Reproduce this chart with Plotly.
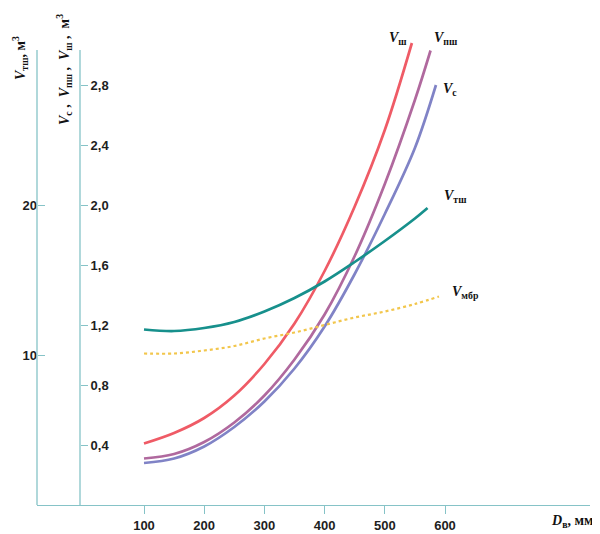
import plotly.graph_objects as go

# ---- data (x in mm, y in m^3; V_tsh and V_mbr on the outer axis scale) ----
x_sh = [100, 150, 200, 250, 300, 350, 400, 450, 500, 545]
v_sh = [0.41, 0.48, 0.58, 0.73, 0.94, 1.21, 1.56, 1.99, 2.50, 3.08]

x_psh = [100, 150, 200, 250, 300, 350, 400, 450, 500, 550, 576]
v_psh = [0.31, 0.34, 0.42, 0.55, 0.73, 0.97, 1.27, 1.66, 2.14, 2.70, 3.03]

x_s = [100, 150, 200, 250, 300, 350, 400, 450, 500, 550, 585]
v_s = [0.28, 0.31, 0.39, 0.52, 0.69, 0.91, 1.19, 1.54, 1.94, 2.38, 2.80]

x_tsh = [100, 150, 200, 250, 300, 350, 400, 450, 500, 550, 571]
v_tsh = [11.7, 11.6, 11.8, 12.2, 12.9, 13.8, 14.9, 16.2, 17.6, 19.1, 19.8]

x_mbr = [100, 150, 200, 250, 300, 350, 400, 450, 500, 550, 590]
v_mbr = [10.1, 10.1, 10.3, 10.6, 11.1, 11.5, 12.0, 12.5, 12.9, 13.4, 13.9]

x_ticks = [100, 200, 300, 400, 500, 600]
y_ticks = [0.4, 0.8, 1.2, 1.6, 2.0, 2.4, 2.8]
y2_ticks = [10, 20]

OFF = 8                 # default page body margin
W, H = 600 - OFF, 534 - OFF


def fx(px):
    return (px - OFF) / W


def fy(py):
    return (H - (py - OFF)) / H


AX = "#86c3c7"
TICKFONT = dict(family="Liberation Sans, Arial, sans-serif", size=13, color="#1e1e1e", weight="bold")
LBLFONT = dict(family="Liberation Serif, Times New Roman, serif", size=14, color="#111")

fig = go.Figure()

series = [
    (x_sh, v_sh, "#ef5b66", "solid", "y", "ш", -14, 5),
    (x_psh, v_psh, "#b0699e", "solid", "y", "пш", 15, 12),
    (x_s, v_s, "#8083c6", "solid", "y", "с", 14, -4),
    (x_tsh, v_tsh, "#17908c", "solid", "y2", "тш", 28, 12),
    (x_mbr, v_mbr, "#f2c64c", "dot", "y2", "мбр", 27, 4),
]

for xs, ys, col, dash, yax, sub, dx, dy in series:
    fig.add_trace(go.Scatter(
        x=xs, y=ys, mode="lines",
        line=dict(color=col, width=2.7 if dash == "solid" else 2.2, dash=dash,
                  shape="spline", smoothing=1.0),
        yaxis=yax, showlegend=False, hoverinfo="skip"))
    fig.add_annotation(x=xs[-1], y=ys[-1], xref="x", yref=yax,
                       text="<b><i>V</i></b><sub><b>" + sub + "</b></sub>",
                       showarrow=False, xshift=dx, yshift=dy, font=LBLFONT)

# scales
px100, px600 = 144, 445
scale = (px600 - px100) / 500.0
xmin = 100 - (px100 - 37) / scale
xmax = 100 + (590 - px100) / scale

ybot, ydtop, yline_top = 505, 28, 50
yscale = 150.0
ymax = (ybot - ydtop) / yscale

fig.update_layout(
    width=W, height=H, margin=dict(l=0, r=0, t=0, b=0),
    paper_bgcolor="white", plot_bgcolor="white",
    separators=", ",
    xaxis=dict(domain=[fx(37), fx(590)], range=[xmin, xmax], tickvals=x_ticks,
               showgrid=False, zeroline=False, showline=True, linecolor=AX, linewidth=1.3,
               ticks="outside", ticklen=8, tickcolor=AX, tickfont=TICKFONT, automargin=False,
               anchor="y"),
    yaxis=dict(domain=[fy(ybot), fy(ydtop)], range=[0, ymax], tickvals=y_ticks,
               tickformat=".1f", anchor="free", position=fx(80), side="right",
               showgrid=False, zeroline=False, showline=False,
               ticks="outside", ticklen=7, tickcolor=AX, tickfont=TICKFONT, automargin=False),
    yaxis2=dict(overlaying="y", range=[0, ymax * 10], tickvals=y2_ticks,
                anchor="free", position=fx(37), side="left",
                showgrid=False, zeroline=False, showline=False,
                ticks="inside", ticklen=7, tickcolor=AX, tickfont=TICKFONT, automargin=False),
)

# vertical axis lines (stop below the top of the plotting area, as in the reference)
for px in (37, 80):
    fig.add_shape(type="line", xref="paper", yref="paper",
                  x0=fx(px), x1=fx(px), y0=fy(ybot), y1=fy(yline_top),
                  line=dict(color=AX, width=1.3))

# axis titles
fig.add_annotation(x=fx(596), y=fy(521), xref="paper", yref="paper", xanchor="right",
                   yanchor="middle", showarrow=False,
                   text="<b><i>D</i></b><sub><b>в</b></sub><b>, мм</b>",
                   font=dict(family="Liberation Serif, serif", size=14, color="#111"))
fig.add_annotation(x=fx(20), y=fy(58), xref="paper", yref="paper", textangle=-90,
                   showarrow=False, xanchor="center", yanchor="middle",
                   text="<b><i>V</i></b><sub><b>тш</b></sub><b>, м<sup>3</sup></b>",
                   font=dict(family="Liberation Serif, serif", size=14, color="#111"))
fig.add_annotation(x=fx(64), y=fy(70), xref="paper", yref="paper", textangle=-90,
                   showarrow=False, xanchor="center", yanchor="middle",
                   text="<b><i>V</i></b><sub><b>с</b></sub><b> ,  </b><b><i>V</i></b><sub><b>пш</b></sub><b> ,  </b>"
                        "<b><i>V</i></b><sub><b>ш</b></sub><b> ,  м<sup>3</sup></b>",
                   font=dict(family="Liberation Serif, serif", size=14, color="#111"))

fig.write_html("out.html")
